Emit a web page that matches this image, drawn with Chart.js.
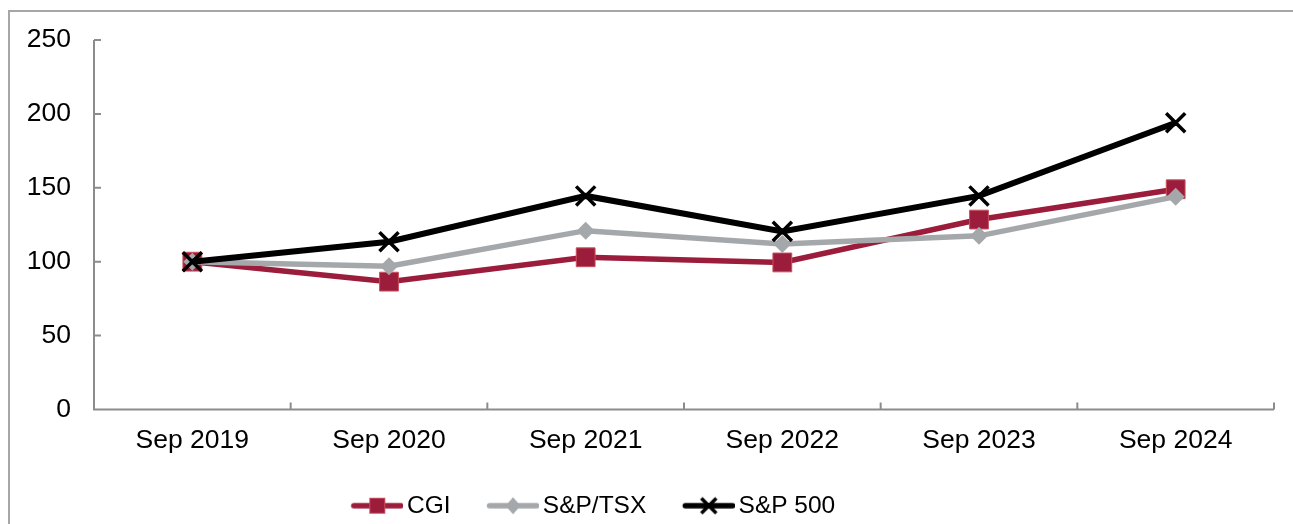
<!DOCTYPE html>
<html>
<head>
<meta charset="utf-8">
<script src="https://cdn.jsdelivr.net/npm/chart.js@4.4.1/dist/chart.umd.min.js"></script>
<style>
  html, body { margin: 0; padding: 0; background: #fff; overflow: hidden; }
  #frame { position: absolute; left: 8px; top: 10px; width: 1400px; height: 600px;
           border-left: 2px solid #a6a6a6; border-top: 2px solid #a6a6a6; }
  #wrap { position: absolute; left: 0; top: 0; width: 1293px; height: 524px; }
</style>
</head>
<body>
<div id="frame"></div>
<div id="wrap"><canvas id="chart"></canvas></div>
<script>
// --- data ---
const categories = ['Sep 2019', 'Sep 2020', 'Sep 2021', 'Sep 2022', 'Sep 2023', 'Sep 2024'];
const cgi   = [100, 86.5, 103, 99.5, 128.5, 149];
const tsx   = [100, 97, 121, 112, 117.5, 144];
const sp500 = [100, 113.5, 144.5, 120.5, 144.5, 194];
const yTicks = { min: 0, max: 250, step: 50 };

// --- colours ---
const MAROON = '#9b1d3b';
const MAROON_EDGE = '#c9505d';
const GREY = '#a5a8aa';
const BLACK = '#000000';
const AXIS = '#8c8c8c';
const FONT = 'Liberation Sans, Arial, sans-serif';

// legend icon: line with marker, drawn on a small canvas
function legendIcon(kind, color) {
  const c = document.createElement('canvas');
  c.width = 87; c.height = 24;
  const g = c.getContext('2d');
  const cx = 61, cy = 12;
  g.strokeStyle = color; g.lineWidth = 5.5; g.lineCap = 'round';
  g.beginPath(); g.moveTo(37.5, cy); g.lineTo(84.5, cy); g.stroke();
  if (kind === 'rect') {
    g.fillStyle = color; g.fillRect(cx - 7.5, cy - 7.5, 15, 15);
    g.strokeStyle = MAROON_EDGE; g.lineWidth = 1; g.strokeRect(cx - 7.5, cy - 7.5, 15, 15);
  } else if (kind === 'diamond') {
    g.fillStyle = color; g.beginPath();
    g.moveTo(cx - 7.5, cy); g.lineTo(cx, cy - 8.5); g.lineTo(cx + 7.5, cy); g.lineTo(cx, cy + 8.5);
    g.closePath(); g.fill();
  } else {
    g.lineWidth = 3.5; g.lineCap = 'butt'; g.beginPath();
    g.moveTo(cx - 7.5, cy - 7.5); g.lineTo(cx + 7.5, cy + 7.5);
    g.moveTo(cx + 7.5, cy - 7.5); g.lineTo(cx - 7.5, cy + 7.5);
    g.stroke();
  }
  return c;
}
const icons = [legendIcon('rect', MAROON), legendIcon('diamond', GREY), legendIcon('cross', BLACK)];

// axis lines with inward tick marks
const axisLines = {
  id: 'axisLines',
  beforeDatasetsDraw(chart) {
    const { ctx, chartArea: a, scales: { x, y } } = chart;
    ctx.save();
    ctx.strokeStyle = AXIS;
    ctx.lineWidth = 2;
    ctx.beginPath();
    ctx.moveTo(a.left, a.top);
    ctx.lineTo(a.left, a.bottom);
    ctx.lineTo(a.right, a.bottom);
    y.ticks.forEach(t => {
      const py = y.getPixelForValue(t.value);
      ctx.moveTo(a.left, py); ctx.lineTo(a.left + 7, py);
    });
    const half = (x.getPixelForValue(1) - x.getPixelForValue(0)) / 2;
    for (let i = 0; i <= categories.length; i++) {
      const px = x.getPixelForValue(i) - half;
      ctx.moveTo(px, a.bottom); ctx.lineTo(px, a.bottom - 7);
    }
    ctx.stroke();
    ctx.restore();
  }
};

// move the legend to where the reference has it
const legendShift = {
  id: 'legendShift',
  afterLayout(chart) {
    const l = chart.legend;
    l.left -= 57; l.right -= 57;
    l.top += 4; l.bottom += 4;
  }
};

new Chart(document.getElementById('chart'), {
  type: 'line',
  data: {
    labels: categories,
    datasets: [
      { label: 'CGI', data: cgi, borderColor: MAROON, borderWidth: 5.5,
        pointStyle: 'rect', pointRadius: 13.3, pointBackgroundColor: MAROON,
        pointBorderColor: MAROON_EDGE, pointBorderWidth: 1, order: 3 },
      { label: 'S&P/TSX', data: tsx, borderColor: GREY, borderWidth: 5.5,
        pointStyle: 'rectRot', pointRadius: 9, pointBackgroundColor: GREY,
        pointBorderWidth: 0, order: 2 },
      { label: 'S&P 500', data: sp500, borderColor: BLACK, borderWidth: 6,
        pointStyle: 'crossRot', pointRadius: 13.5, pointBorderColor: BLACK,
        pointBorderWidth: 3.5, order: 1 }
    ]
  },
  options: {
    responsive: true,
    maintainAspectRatio: false,
    animation: false,
    layout: { padding: { top: 40, right: 19, bottom: 0, left: 0 } },
    elements: { line: { tension: 0 } },
    plugins: {
      tooltip: { enabled: false },
      legend: {
        position: 'bottom',
        labels: {
          usePointStyle: true,
          pointStyleWidth: 70,
          padding: 10,
          color: '#000',
          font: { family: FONT, size: 24.5 },
          generateLabels: chart => chart.data.datasets.map((ds, i) => ({
            text: ds.label, pointStyle: icons[i], datasetIndex: i,
            lineWidth: 0, fillStyle: 'transparent', strokeStyle: 'transparent',
            fontColor: '#000', hidden: false
          }))
        }
      }
    },
    scales: {
      x: {
        offset: true,
        grid: { display: false, drawTicks: false },
        border: { display: false },
        ticks: { color: '#000', font: { family: FONT, size: 26.5 }, padding: 15, maxRotation: 0 },
        afterFit(s) { s.height = 70; }
      },
      y: {
        min: yTicks.min, max: yTicks.max,
        grid: { display: false, drawTicks: false },
        border: { display: false },
        ticks: { stepSize: yTicks.step, color: '#000', font: { family: FONT, size: 26.5 }, padding: 23 },
        afterFit(s) { s.width = 94; }
      }
    }
  },
  plugins: [axisLines, legendShift]
});
</script>
</body>
</html>
